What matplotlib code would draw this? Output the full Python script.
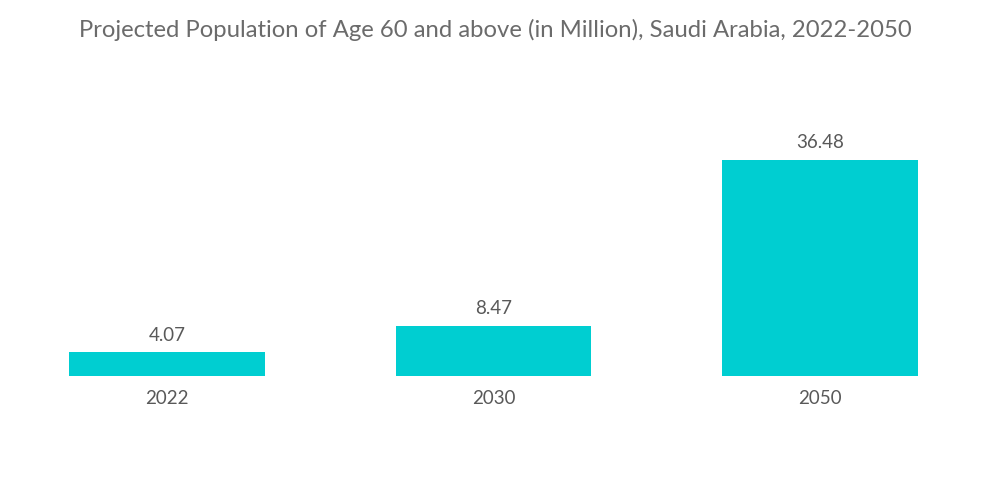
import matplotlib
matplotlib.use("Agg")
import matplotlib.pyplot as plt

years = ["2022", "2030", "2050"]
population = [4.07, 8.47, 36.48]

bar_color = "#00CED1"
text_color = "#595959"

plt.rcParams["font.family"] = ["Lato", "DejaVu Sans"]

fig = plt.figure(figsize=(10, 5.04), dpi=100)
ax = fig.add_axes([0.069, 0.254, 0.849, 0.548])

x = list(range(len(years)))
bars = ax.bar(x, population, width=0.6, color=bar_color)

for xi, val in zip(x, population):
    ax.annotate(f"{val:.2f}", (xi, val), xytext=(0, 6), textcoords="offset points",
                ha="center", va="bottom", fontsize=13.5, color=text_color)

ax.set_xlim(-0.3, 2.3)
ax.set_ylim(0, 46.6)
ax.set_xticks(x)
ax.set_xticklabels(years, fontsize=13.5, color=text_color)
ax.tick_params(axis="x", length=0, pad=10)
ax.set_yticks([])
for s in ax.spines.values():
    s.set_visible(False)

fig.text(0.495, 0.94, "Projected Population of Age 60 and above (in Million), Saudi Arabia, 2022-2050",
         ha="center", va="center", fontsize=17.2, color="#6b6b6b")

fig.savefig("out.png", dpi=100)
